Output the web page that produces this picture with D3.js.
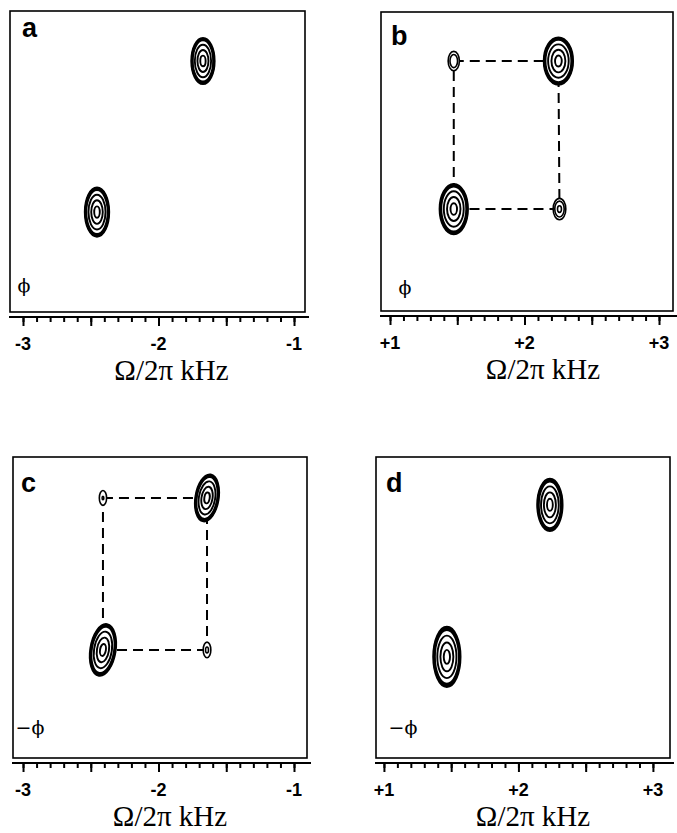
<!DOCTYPE html>
<html><head><meta charset="utf-8">
<script src="https://cdn.jsdelivr.net/npm/d3@7"></script>
<style>html,body{margin:0;padding:0;background:#fff}</style>
</head><body>
<script>
// ---------- data ----------
const panelLabels = ["a", "b", "c", "d"];
const phaseLabels = ["\u03D5", "\u03D5", "\u2212\u03D5", "\u2212\u03D5"];
const tickValuesNeg = [-3, -2, -1];
const tickLabelsNeg = ["-3", "-2", "-1"];
const tickValuesPos = [1, 2, 3];
const tickLabelsPos = ["+1", "+2", "+3"];
const axisTitle = "\u03A9/2\u03C0 kHz";
const contourLevels = [0.05, 0.065, 0.085, 0.22, 0.5, 0.85];

// peaks: x = Ω/2π (kHz), y = indirect-dimension position (0 bottom .. 1 top), amp, widths, tilt
const peaksA_x = [-2.454, -1.672];
const peaksA_y = [0.332, 0.834];
const peaksA_amp = [1, 1];
const peaksA_sx = [0.0362, 0.0346];
const peaksA_sy = [0.0332, 0.0311];
const peaksA_tilt = [0, 0];

const peaksB_x = [1.474, 2.252, 1.474, 2.260];
const peaksB_y = [0.341, 0.836, 0.836, 0.341];
const peaksB_amp = [1, 1, 0.081, 0.09];
const peaksB_sx = [0.0425, 0.044, 0.0425, 0.0435];
const peaksB_sy = [0.0341, 0.0321, 0.033, 0.033];
const peaksB_tilt = [0, 0, 0, 0];
const linksB = [[2, 1], [1, 3], [3, 0], [0, 2]];

const peaksC_x = [-2.41, -1.642, -2.41, -1.642];
const peaksC_y = [0.359, 0.864, 0.864, 0.359];
const peaksC_amp = [1, 1, 0.066, 0.068];
const peaksC_sx = [0.0377, 0.0346, 0.036, 0.036];
const peaksC_sy = [0.0352, 0.0319, 0.033, 0.033];
const peaksC_tilt = [9, 9, 0, 0];
const linksC = [[2, 1], [1, 3], [3, 0], [0, 2]];

const peaksD_x = [1.468, 2.234];
const peaksD_y = [0.336, 0.841];
const peaksD_amp = [1, 1];
const peaksD_sx = [0.0409, 0.0379];
const peaksD_sy = [0.0406, 0.0353];
const peaksD_tilt = [0, 0];

// ---------- layout ----------
const W = 677, H = 833;
const layout = [
  {x0: 10, y0: 11, w: 295, h: 301, dom: [-3.096, -0.919], lab: [22, 37], ph: [24, 292], ttl: 14},
  {x0: 381, y0: 12, w: 292, h: 299, dom: [0.933, 3.104], lab: [391, 45], ph: [405, 294], ttl: 16},
  {x0: 13, y0: 457, w: 294, h: 301, dom: [-3.074, -0.904], lab: [21, 492], ph: [30, 734], ttl: 10},
  {x0: 376, y0: 457, w: 294, h: 301, dom: [0.941, 3.127], lab: [386, 492], ph: [403, 734], ttl: 10}
];
const peakSets = [
  {x: peaksA_x, y: peaksA_y, amp: peaksA_amp, sx: peaksA_sx, sy: peaksA_sy, tilt: peaksA_tilt, links: []},
  {x: peaksB_x, y: peaksB_y, amp: peaksB_amp, sx: peaksB_sx, sy: peaksB_sy, tilt: peaksB_tilt, links: linksB},
  {x: peaksC_x, y: peaksC_y, amp: peaksC_amp, sx: peaksC_sx, sy: peaksC_sy, tilt: peaksC_tilt, links: linksC},
  {x: peaksD_x, y: peaksD_y, amp: peaksD_amp, sx: peaksD_sx, sy: peaksD_sy, tilt: peaksD_tilt, links: []}
];

const svg = d3.select("body").append("svg").attr("width", W).attr("height", H);

layout.forEach((L, i) => {
  const neg = L.dom[0] < 0;
  const x = d3.scaleLinear().domain(L.dom).range([L.x0, L.x0 + L.w]);
  const y = d3.scaleLinear().domain([0, 1]).range([L.y0 + L.h, L.y0]);
  const g = svg.append("g");

  // frame
  g.append("rect").attr("x", L.x0).attr("y", L.y0).attr("width", L.w).attr("height", L.h)
    .attr("fill", "none").attr("stroke", "#000").attr("stroke-width", 1.6);

  const P = peakSets[i];
  // dashed connectors
  P.links.forEach(([a, b]) => {
    g.append("line")
      .attr("x1", x(P.x[a])).attr("y1", y(P.y[a]))
      .attr("x2", x(P.x[b])).attr("y2", y(P.y[b]))
      .attr("stroke", "#000").attr("stroke-width", 2).attr("stroke-dasharray", "10,6");
  });

  // contours
  P.x.forEach((px, k) => {
    const cx = x(px), cy = y(P.y[k]);
    const pg = g.append("g").attr("transform", `translate(${cx},${cy}) rotate(${P.tilt[k]})`);
    const lv = contourLevels.filter(l => l < P.amp[k]);
    const big = P.amp[k] >= 0.5;
    lv.forEach((l, j) => {
      const r = Math.sqrt(2 * Math.log(P.amp[k] / l));
      const rx = x(px + r * P.sx[k]) - cx;
      const ry = cy - y(P.y[k] + r * P.sy[k]);
      pg.append("ellipse").attr("cx", 0).attr("cy", 0).attr("rx", rx).attr("ry", ry)
        .attr("fill", j === 0 ? "#fff" : "none")
        .attr("stroke", "#000")
        .attr("stroke-width", big ? (j < 3 ? 2.3 : 1.9) : 1.6);
    });
  });

  // panel label
  g.append("text").attr("x", L.lab[0]).attr("y", L.lab[1]).text(panelLabels[i])
    .attr("font-family", "Liberation Sans, Arial, sans-serif").attr("font-weight", "bold")
    .attr("font-size", 27).attr("fill", "#000");

  // phase label
  g.append("text").attr("x", L.ph[0]).attr("y", L.ph[1]).text(phaseLabels[i])
    .attr("text-anchor", "middle").attr("fill", "#000")
    .attr("font-family", "DejaVu Serif, Liberation Serif, serif").attr("font-size", 19);

  // axis
  const ay = L.y0 + L.h + 5;
  const lo = neg ? -3 : 1, hi = neg ? -1 : 3;
  const minor = d3.range(Math.round(lo * 10), Math.round(hi * 10) + 1).map(v => v / 10);
  const major = d3.range(Math.round(lo * 2), Math.round(hi * 2) + 1).map(v => v / 2);
  const ax = g.append("g").attr("transform", `translate(0,${ay})`);
  ax.call(d3.axisBottom(x).tickValues(minor).tickSize(5).tickFormat(""));
  ax.append("g").call(d3.axisBottom(x).tickValues(major).tickSize(9).tickFormat(""));
  ax.selectAll(".domain").remove();
  ax.selectAll(".tick line").attr("stroke", "#000").attr("stroke-width", 2);
  ax.append("line").attr("x1", L.x0 - 1).attr("x2", L.x0 + L.w + 4).attr("y1", 0).attr("y2", 0)
    .attr("stroke", "#000").attr("stroke-width", 2.2);

  const tv = neg ? tickValuesNeg : tickValuesPos;
  const tl = neg ? tickLabelsNeg : tickLabelsPos;
  tv.forEach((v, j) => {
    g.append("text").attr("x", x(v)).attr("y", ay + 33).text(tl[j])
      .attr("text-anchor", "middle").attr("fill", "#000")
      .attr("font-family", "Liberation Sans, Arial, sans-serif").attr("font-weight", "bold")
      .attr("font-size", 18);
  });

  g.append("text").attr("x", L.x0 + L.w / 2 + L.ttl).attr("y", ay + 63).text(axisTitle)
    .attr("text-anchor", "middle").attr("fill", "#000")
    .attr("font-family", "Liberation Serif, Times New Roman, serif").attr("font-size", 29);
});
</script>
</body></html>
